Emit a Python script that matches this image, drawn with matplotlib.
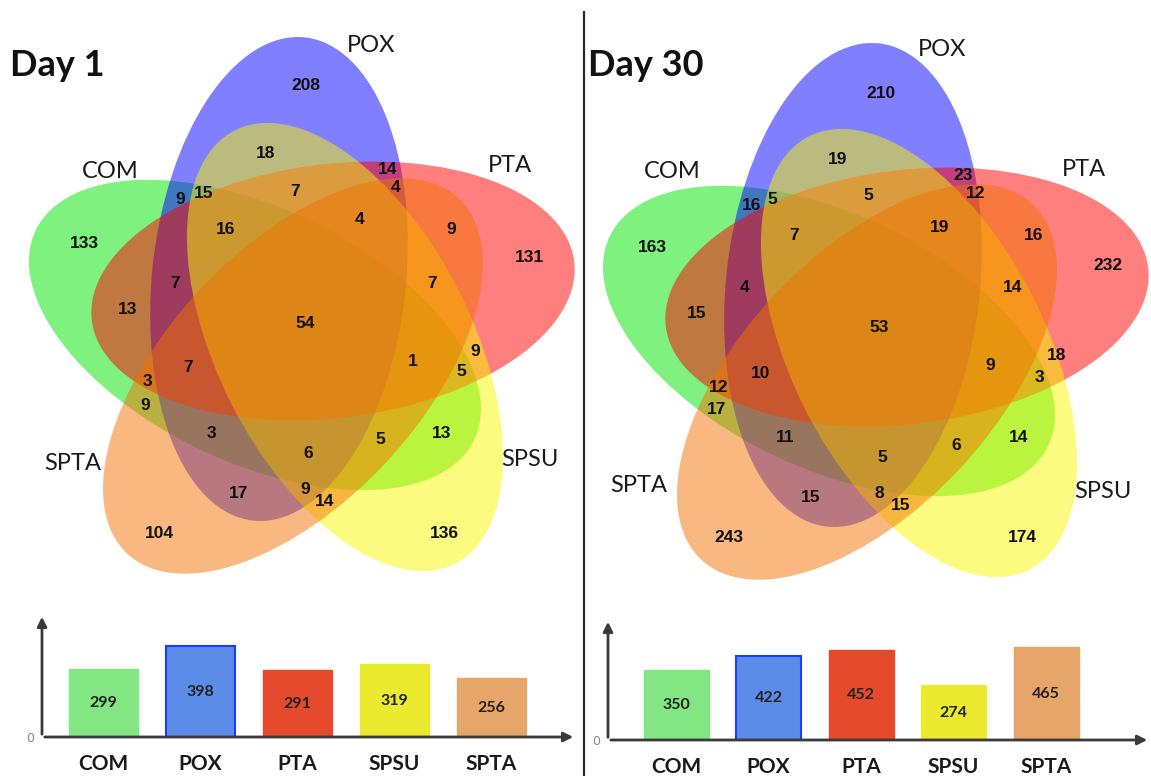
import numpy as np
import matplotlib
matplotlib.use("Agg")
import matplotlib.pyplot as plt
from matplotlib.patches import Ellipse

# sets, in the order the ellipses are stacked
set_names = ['COM', 'POX', 'PTA', 'SPSU', 'SPTA']
venn_colors = ['#00E400', '#0000FF', '#FF0000', '#F8F800', '#F27300']
bar_colors = ['#82E682', '#5B8CE8', '#E64A2C', '#ECEA2E', '#E6A66A']

# total genes per set
day1_totals = [299, 398, 291, 319, 256]
day30_totals = [350, 422, 452, 274, 465]

# counts of the 31 Venn regions
day1_counts = [208, 18, 14, 4, 9, 15, 7, 16, 4, 9, 133, 131, 7, 7, 13, 54,
               9, 1, 7, 5, 3, 9, 3, 13, 5, 6, 17, 9, 14, 104, 136]
day30_counts = [210, 19, 23, 12, 16, 5, 5, 7, 19, 16, 163, 232, 4, 14, 15, 53,
                10, 9, 18, 3, 12, 17, 11, 14, 6, 5, 15, 8, 15, 243, 174]

# layout (pixels, y down)
day1_count_xy = [(306, 86), (266, 154), (388, 170), (396, 188), (180, 200), (204, 194),
                 (295, 191), (226, 230), (360, 220), (451, 229), (84, 243), (529, 258),
                 (175, 283), (432, 283), (128, 309), (305, 323), (475, 351), (413, 362),
                 (188, 368), (461, 372), (147, 382), (145, 405), (211, 434), (442, 434),
                 (380, 440), (308, 454), (239, 493), (305, 490), (325, 502), (159, 533),
                 (444, 533)]
day30_count_xy = [(881, 93), (838, 160), (963, 175), (976, 193), (752, 206), (772, 200),
                  (868, 196), (794, 236), (940, 227), (1034, 236), (652, 248), (1108, 265),
                  (745, 288), (1013, 288), (697, 314), (879, 328), (761, 373), (990, 366),
                  (1057, 355), (1039, 377), (719, 388), (717, 410), (785, 438), (1019, 438),
                  (956, 445), (882, 458), (811, 497), (879, 493), (901, 506), (729, 537),
                  (1022, 537)]
day1_name_xy = [(110, 172), (371, 46), (510, 165), (530, 460), (73, 464)]
day30_name_xy = [(672, 171), (942, 49), (1084, 170), (1103, 491), (639, 486)]

# ellipse centres and angles for the day 1 diagram; day 30 is the same shape shifted
ell_centers = [(255, 335), (279, 279), (333, 291), (345, 347), (293, 376)]
ell_angles = [25.5, -83.9, -7, 63, -47]
ell_a, ell_b = 243, 127
day30_shift = (574, 6)

W, H = 1151, 776
fig = plt.figure(figsize=(W / 100, H / 100), dpi=100)
ax = fig.add_axes([0, 0, 1, 1])
ax.set_xlim(0, W)
ax.set_ylim(H, 0)
ax.axis('off')

num_font = dict(family='Liberation Sans', fontweight='bold', fontsize=12.5, color='#111111')
name_font = dict(family='Lato', fontsize=17, color='#1a1a1a')


def venn(dx, dy, counts, count_xy, name_xy, title, title_x):
    for (cx, cy), ang, col in zip(ell_centers, ell_angles, venn_colors):
        ax.add_patch(Ellipse((cx + dx, cy + dy), 2 * ell_a, 2 * ell_b, angle=ang,
                             facecolor=col, edgecolor='none', alpha=0.5))
    for n, (x, y) in zip(counts, count_xy):
        ax.text(x, y, str(n), ha='center', va='center', **num_font)
    for name, (x, y) in zip(set_names, name_xy):
        ax.text(x, y, name, ha='center', va='center', **name_font)
    ax.text(title_x, 66, title, ha='left', va='center', family='Lato',
            fontweight='bold', fontsize=26, color='#111111')


venn(0, 0, day1_counts, day1_count_xy, day1_name_xy, 'Day 1', 10)
venn(day30_shift[0], day30_shift[1], day30_counts, day30_count_xy, day30_name_xy, 'Day 30', 588)

# divider between the two days
ax.plot([584, 584], [12, H], color='#2a2a2a', lw=1.6)


def bars(x0, y0, x1, y1, totals, first, step, width, px_per_unit):
    bx = fig.add_axes([x0 / W, (H - y0) / H, (x1 - x0) / W, (y0 - y1) / H])
    bx.set_xlim(0, x1 - x0)
    bx.set_ylim(0, (y0 - y1) / px_per_unit)
    pos = first + step * np.arange(len(totals))
    rects = bx.bar(pos, totals, width=width, color=bar_colors, edgecolor=bar_colors, lw=1)
    rects[1].set_edgecolor('#1E3CFF')
    rects[1].set_linewidth(1.5)
    for p, v in zip(pos, totals):
        bx.text(p, v / 2, str(v), ha='center', va='center', family='Lato',
                fontweight='bold', fontsize=11.5, color='#222222')
    for s in bx.spines.values():
        s.set_visible(False)
    bx.set_xticks(pos, set_names)
    bx.set_yticks([0], ['0'])
    bx.tick_params(axis='x', length=0, pad=12, labelsize=15)
    bx.tick_params(axis='y', length=0, pad=6, labelsize=9, labelcolor='#888888')
    for lab in bx.get_xticklabels():
        lab.set_family('Lato')
        lab.set_fontweight('bold')
        lab.set_color('#1a1a1a')
    bx.patch.set_alpha(0)
    arrow = dict(arrowstyle='-|>', color='#3a3a3a', lw=2, mutation_scale=14)
    bx.annotate('', xy=(1, 0), xytext=(0, 0), xycoords='axes fraction', arrowprops=arrow)
    bx.annotate('', xy=(0, 1), xytext=(0, 0), xycoords='axes fraction', arrowprops=arrow)


bars(42, 737, 576, 614, day1_totals, 61, 97, 69, 91 / 398)
bars(608, 740, 1150, 619, day30_totals, 68, 92.5, 65, 93 / 465)

fig.savefig('out.png', dpi=100)
